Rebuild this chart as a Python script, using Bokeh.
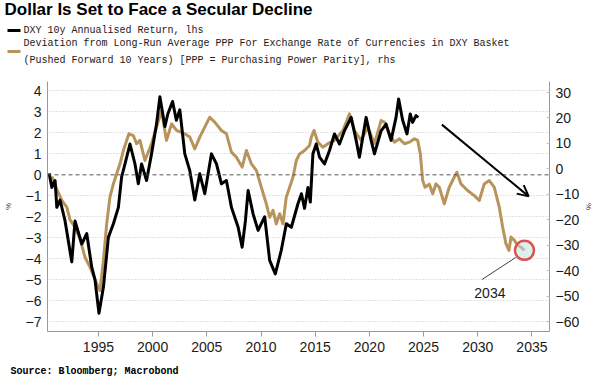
import numpy as np
from bokeh.plotting import figure
from bokeh.layouts import column
from bokeh.models import Range1d, LinearAxis, Span, Label, Arrow, OpenHead, FixedTicker
from bokeh.embed import file_html
from bokeh.resources import INLINE

# ---------------- data ----------------
dxy_years = [1990.45, 1990.70, 1991.00, 1991.16, 1991.46, 1991.92, 1992.54, 1992.84, 1993.46, 1993.92,
             1994.38, 1994.68, 1995.05, 1995.46, 1995.92, 1996.38, 1996.84, 1997.14, 1997.45, 1997.91,
             1998.37, 1998.68, 1998.98, 1999.44, 1999.90, 2000.36, 2000.67, 2001.13, 2001.40, 2001.84,
             2002.19, 2002.51, 2002.97, 2003.43, 2003.89, 2004.35, 2004.81, 2005.43, 2005.89, 2006.35,
             2006.81, 2007.27, 2007.89, 2008.26, 2008.56, 2008.81, 2009.27, 2009.73, 2010.34, 2010.80,
             2011.32, 2011.87, 2012.34, 2012.80, 2013.41, 2013.73, 2014.02, 2014.33, 2014.55, 2014.79,
             2015.10, 2015.40, 2015.86, 2016.32, 2016.78, 2017.24, 2017.70, 2018.32, 2018.78, 2019.08,
             2019.70, 2020.16, 2020.47, 2021.08, 2021.54, 2022.00, 2022.46, 2022.70, 2023.07, 2023.47,
             2023.77, 2023.99, 2024.30, 2024.52]
dxy_ret = [0.07, -0.60, -0.27, -1.55, -1.20, -2.20, -4.15, -2.20, -3.30, -2.80,
           -4.40, -5.00, -6.60, -5.35, -2.97, -2.33, -1.55, -0.10, 0.52, 1.47,
           0.52, -0.43, 0.52, -0.27, 1.00, 2.42, 3.72, 2.30, 2.90, 3.50,
           2.60, 3.10, 1.00, 0.20, -1.20, 0.05, -0.90, 1.00, 0.52, -0.43,
           -0.27, -1.55, -2.50, -3.45, -2.20, -0.75, -1.86, -2.65, -2.00, -4.08,
           -4.72, -3.60, -2.33, -2.50, -1.38, -0.90, -1.60, -0.60, -1.30, 1.00,
           1.47, 0.84, 0.52, 1.16, 1.95, 1.47, 2.10, 2.74, 1.64, 0.84,
           2.74, 1.64, 1.00, 2.10, 2.42, 1.64, 2.74, 3.62, 2.60, 1.95,
           2.90, 2.50, 2.82, 2.74]

ppp_years = [1990.70, 1991.16, 1991.62, 1992.08, 1992.38, 1992.84, 1993.27, 1993.76, 1994.22, 1994.84,
             1995.14, 1995.46, 1995.76, 1996.06, 1996.38, 1996.68, 1996.99, 1997.30, 1997.81, 1998.22,
             1998.52, 1998.83, 1999.29, 1999.90, 2000.36, 2000.82, 2001.28, 2001.75, 2002.21, 2002.97,
             2003.43, 2003.89, 2004.35, 2004.81, 2005.27, 2005.73, 2006.35, 2006.81, 2007.27, 2007.73,
             2008.26, 2008.65, 2009.11, 2009.57, 2010.03, 2010.49, 2010.80, 2011.11, 2011.41, 2011.72,
             2012.03, 2012.33, 2012.64, 2012.95, 2013.26, 2013.56, 2014.02, 2014.48, 2014.64, 2014.89,
             2015.25, 2015.71, 2016.17, 2016.78, 2017.56, 2018.16, 2018.62, 2019.24, 2019.86, 2020.47,
             2021.08, 2021.39, 2021.85, 2022.31, 2022.77, 2023.23, 2023.69, 2024.15, 2024.46, 2024.70,
             2024.92, 2025.13, 2025.53, 2025.84, 2026.14, 2026.45, 2026.91, 2027.37, 2027.83, 2028.08,
             2028.45, 2029.06, 2029.68, 2030.14, 2030.60, 2031.06, 2031.52, 2031.99, 2032.30, 2032.60,
             2032.88, 2033.07, 2033.38, 2033.70, 2034.01, 2034.31]
ppp_dev = [-3.0, -8.0, -12.4, -15.0, -20.0, -22.9, -27.0, -34.7, -38.6, -45.0,
           -47.8, -36.0, -21.6, -11.1, -5.9, -1.9, 2.0, 7.2, 13.8, 13.1,
           9.9, 11.2, 3.3, 9.9, 16.4, 22.9, 11.2, 17.7, 15.1, 13.8,
           12.5, 7.9, 12.5, 16.4, 20.3, 18.4, 15.1, 13.8, 6.6, 4.6,
           0.7, 7.2, 2.0, -0.6, -7.2, -13.7, -19.0, -16.3, -21.6, -17.6,
           -21.6, -11.1, -7.2, -3.3, 3.3, 5.9, 7.2, 9.2, 12.5, 15.1,
           10.5, 8.5, 9.9, 11.2, 15.1, 21.6, 15.1, 11.2, 16.4, 9.9,
           19.0, 18.4, 13.8, 10.5, 11.8, 9.9, 10.5, 11.8, 11.2, 5.9,
           -4.6, -7.2, -6.0, -9.8, -5.9, -7.2, -13.7, -7.2, -3.3, -1.3,
           -5.9, -8.5, -10.5, -12.4, -5.9, -4.6, -7.2, -15.1, -22.9, -29.4,
           -32.0, -26.8, -28.1, -30.1, -30.8, -32.0]

left_ticks = [-7, -6, -5, -4, -3, -2, -1, 0, 1, 2, 3, 4]
right_ticks = [-60, -50, -40, -30, -20, -10, 0, 10, 20, 30]
x_ticks = [1995, 2000, 2005, 2010, 2015, 2020, 2025, 2030, 2035]

title_text = "Dollar Is Set to Face a Secular Decline"
legend_1 = "DXY 10y Annualised Return, lhs"
legend_2a = "Deviation from Long-Run Average PPP For Exchange Rate of Currencies in DXY Basket"
legend_2b = "(Pushed Forward 10 Years) [PPP = Purchasing Power Parity], rhs"
source_text = "Source: Bloomberg; Macrobond"

# ---------------- geometry (page px; the page has no margin) ----------------
W = 600
TOP_H, BOT_H = 74, 21
MAIN_H = 381 - TOP_H - BOT_H          # 286
FL, FW, FH = 46, 503, 250
FT = 7                                 # frame top at page y 81
X0, X1 = 1990.30, 2036.62
YL0, YL1 = -7.47, 4.45
YR0, YR1 = -63.89, 34.34

GOLD = "#b8935c"
GRID = "#c4c4c4"
AXC = "#9a9a9a"
TXT = "#1a1a1a"
TICKFONT = "Liberation Sans"
MONO = "Liberation Mono"

# ---------------- header (title + legend) ----------------
t = figure(width=W, height=TOP_H, x_range=Range1d(0, W), y_range=Range1d(TOP_H, 0),
           x_axis_type=None, y_axis_type=None, output_backend="svg", toolbar_location=None,
           min_border=0)
t.frame_align = False
t.outline_line_color = None
t.grid.visible = False
t.add_layout(Label(x=4, y=-1, text=title_text, text_font="Liberation Sans", text_font_size="17px",
                   text_font_style="bold", text_color="black", text_baseline="top"))
t.segment(x0=[7, 7], y0=[30, 51], x1=[20, 20], y1=[30, 51], line_color=["black", GOLD], line_width=3)
for yy, txt in ((30, legend_1), (43, legend_2a), (60, legend_2b)):
    t.add_layout(Label(x=23, y=yy, text=txt, text_font=MONO, text_font_size="10px",
                       text_color=TXT, text_baseline="middle"))

# ---------------- main chart ----------------
p = figure(width=W, height=MAIN_H, x_range=Range1d(X0, X1), y_range=Range1d(YL0, YL1),
           output_backend="svg", toolbar_location=None,
           min_border_left=FL, min_border_right=W - FL - FW,
           min_border_top=FT, min_border_bottom=MAIN_H - FT - FH)
p.frame_align = False
p.outline_line_color = None
p.extra_y_ranges = {"r": Range1d(YR0, YR1)}

xa = p.xaxis[0]
xa.ticker = FixedTicker(ticks=x_ticks)
xa.axis_line_color = AXC
xa.major_tick_line_color = AXC
xa.major_tick_out = 5
xa.major_tick_in = 0
xa.minor_tick_line_color = None
xa.major_label_standoff = 5

ya = p.yaxis[0]
ya.ticker = FixedTicker(ticks=left_ticks)
ya.axis_line_color = AXC
ya.major_tick_line_color = None
ya.major_tick_out = 0
ya.major_tick_in = 0
ya.minor_tick_line_color = None
ya.major_label_standoff = 6
ya.axis_label = "%"
ya.axis_label_standoff = 10
ya.axis_label_text_font_size = "8px"
ya.axis_label_text_font_style = "normal"
ya.axis_label_text_color = "#333333"

ra = LinearAxis(y_range_name="r", ticker=FixedTicker(ticks=right_ticks))
ra.axis_line_color = AXC
ra.major_tick_line_color = GRID
ra.major_tick_out = 0
ra.major_tick_in = 3
ra.minor_tick_line_color = None
ra.major_label_standoff = 6
ra.axis_label = "%"
ra.axis_label_standoff = 2
ra.axis_label_text_font_size = "8px"
ra.axis_label_text_font_style = "normal"
ra.axis_label_text_color = "#333333"
p.add_layout(ra, "right")

for ax in (xa, ya, ra):
    ax.major_label_text_font = TICKFONT
    ax.major_label_text_font_size = "14px"
    ax.major_label_text_color = TXT
    ax.axis_label_text_font = TICKFONT

p.xgrid.visible = False
p.ygrid.ticker = FixedTicker(ticks=[v for v in left_ticks if v != 0])
p.ygrid.grid_line_color = GRID
p.ygrid.grid_line_dash = "1 2"
p.ygrid.grid_line_width = 1

p.add_layout(Span(location=0, dimension="width", line_color="#555555",
                  line_dash="4 3", line_width=1))

p.line(ppp_years, ppp_dev, y_range_name="r", line_color=GOLD, line_width=3, line_join="round")
p.line(dxy_years, dxy_ret, line_color="black", line_width=3, line_join="round")

# 2034 annotation
p.scatter(x=[ppp_years[-1]], y=[ppp_dev[-1]], y_range_name="r", size=19,
          fill_color="#bfe3e3", fill_alpha=0.55, line_color="#d9534f", line_width=2.5)
p.segment(x0=[2030.38], y0=[-43.5], x1=[2033.51], y1=[-34.8], y_range_name="r",
          line_color="#444444", line_width=1)
p.add_layout(Label(x=2031.12, y=-48.6, y_range_name="r", text="2034", text_align="center",
                   text_baseline="middle", text_font=TICKFONT, text_font_size="14px",
                   text_color=TXT))

# trend arrow
p.add_layout(Arrow(end=OpenHead(size=11, line_width=2, line_color="black"),
                   x_start=2026.69, y_start=17.4, x_end=2034.70, y_end=-10.8,
                   y_range_name="r", line_width=2, line_color="black"))

# ---------------- footer (source) ----------------
b = figure(width=W, height=BOT_H, x_range=Range1d(0, W), y_range=Range1d(BOT_H, 0),
           x_axis_type=None, y_axis_type=None, output_backend="svg", toolbar_location=None,
           min_border=0)
b.frame_align = False
b.outline_line_color = None
b.grid.visible = False
b.add_layout(Label(x=10, y=11, text=source_text, text_font=MONO, text_font_size="10px",
                   text_font_style="bold", text_color="black", text_baseline="middle"))

layout = column(t, p, b, spacing=0)
open("out.html", "w").write(file_html(layout, INLINE))
